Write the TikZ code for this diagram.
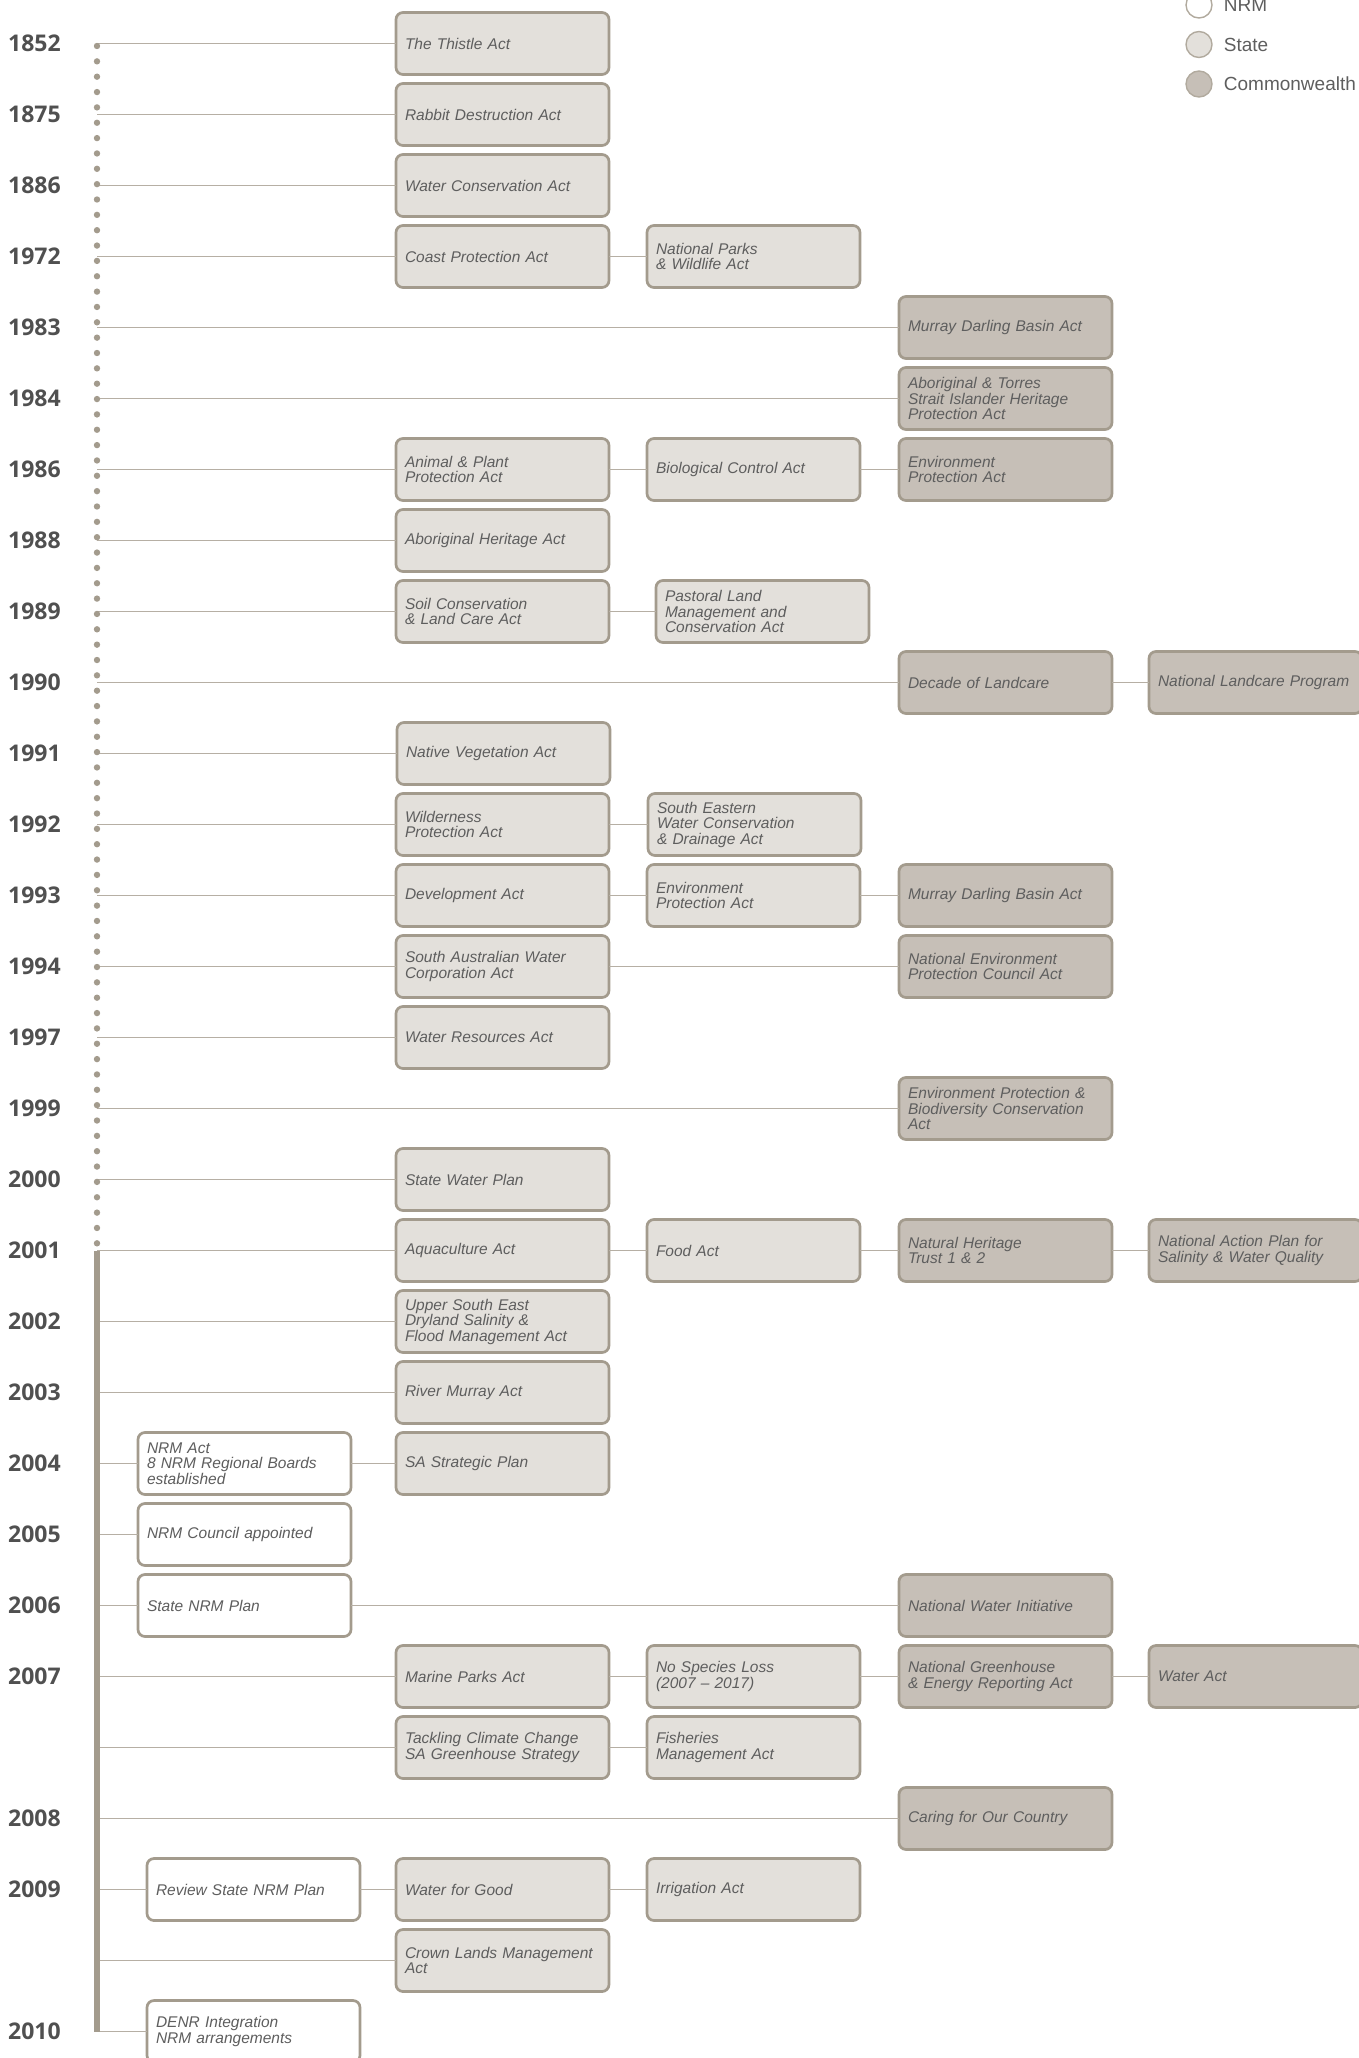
\documentclass[tikz,border=0pt]{standalone}
\usepackage{fontspec}
\setmainfont{Liberation Sans}
\newfontfamily\yearfont{Open Sans}
\usepackage{tikz}
\usetikzlibrary{positioning}

\definecolor{rimcol}{HTML}{A39B8D}
\definecolor{linecol}{HTML}{B6AFA4}
\definecolor{statefill}{HTML}{E3E0DB}
\definecolor{cwfill}{HTML}{C6BFB7}
\definecolor{txtcol}{HTML}{5E5E5E}
\definecolor{yearcol}{HTML}{505050}

\tikzset{
    actbox/.style={
        rectangle,
        rounded corners=7pt,
        draw=rimcol, % 边框
        line width=2.7pt,
        outer sep=0pt,
        minimum height=62pt,
        text width=195pt,
        inner xsep=9pt,
        inner ysep=0pt,
        align=left,
        anchor=west,
        text=txtcol,
        font=\fontsize{15.5}{15.5}\selectfont\itshape
    },
    nrmnode/.style={actbox, fill=white}, % NRM
    statenode/.style={actbox, fill=statefill}, % 州
    cwnode/.style={actbox, fill=cwfill}, % 联邦
    yearnode/.style={
        anchor=west,
        inner sep=0,
        text=yearcol,
        font=\yearfont\bfseries\fontsize{23}{23}\selectfont
    },
    keynode/.style={
        circle,
        draw=rimcol!85,
        line width=1.4pt,
        minimum size=26pt,
        inner sep=0
    },
    keytext/.style={
        inner sep=0,
        text=txtcol,
        font=\fontsize{19}{19}\selectfont
    },
    conn/.style={draw=linecol, line width=1.6pt}
}

\begin{document}
\begin{tikzpicture}[x=1pt, y=-1pt]
    \useasboundingbox (0,0) rectangle (1358,2058);

    % 时间轴
    \foreach \k/\yr in {0/1852, 1/1875, 2/1886, 3/1972, 4/1983, 5/1984, 6/1986,
        7/1988, 8/1989, 9/1990, 10/1991, 11/1992, 12/1993, 13/1994, 14/1997,
        15/1999, 16/2000, 17/2001, 18/2002, 19/2003, 20/2004, 21/2005, 22/2006,
        23/2007, 24/, 25/2008, 26/2009, 27/, 28/2010}{
        \coordinate (t\k) at (97, 43.5+71*\k);
        \node[yearnode] (y\k) at (8, 43.5+71*\k) {\yr};
    }

    % 图例
    \node[keynode, fill=white] (k1) at (1199,5) {};
    \node[keynode, fill=statefill] (k2) at (1199,44.5) {};
    \node[keynode, fill=cwfill] (k3) at (1199,84) {};
    \node[keytext, right=11pt of k1] {NRM};
    \node[keytext, right=11pt of k2] {State};
    \node[keytext, right=11pt of k3] {Commonwealth};

    % 法案
    \node[statenode, right=299pt of t0] (a0) {The Thistle Act};
    \node[statenode, right=299pt of t1] (a1) {Rabbit Destruction Act};
    \node[statenode, right=299pt of t2] (a2) {Water Conservation Act};
    \node[statenode, right=299pt of t3] (a3) {Coast Protection Act};
    \node[statenode, right=38pt of a3] (b3) {National Parks\\\& Wildlife Act};
    \node[cwnode, right=802pt of t4] (c4) {Murray Darling Basin Act};
    \node[cwnode, right=802pt of t5] (c5) {Aboriginal \& Torres\\Strait Islander Heritage\\Protection Act};
    \node[statenode, right=299pt of t6] (a6) {Animal \& Plant\\Protection Act};
    \node[statenode, right=38pt of a6] (b6) {Biological Control Act};
    \node[cwnode, right=39pt of b6] (c6) {Environment\\Protection Act};
    \node[statenode, right=299pt of t7] (a7) {Aboriginal Heritage Act};
    \node[statenode, right=299pt of t8] (a8) {Soil Conservation\\\& Land Care Act};
    \node[statenode, right=47pt of a8] (b8) {Pastoral Land\\Management and\\Conservation Act};
    \node[cwnode, right=802pt of t9] (c9) {Decade of Landcare};
    \node[cwnode, right=37pt of c9] (d9) {National Landcare Program};
    \node[statenode, right=300pt of t10] (a10) {Native Vegetation Act};
    \node[statenode, right=299pt of t11] (a11) {Wilderness\\Protection Act};
    \node[statenode, right=39pt of a11] (b11) {South Eastern\\Water Conservation\\\& Drainage Act};
    \node[statenode, right=299pt of t12] (a12) {Development Act};
    \node[statenode, right=38pt of a12] (b12) {Environment\\Protection Act};
    \node[cwnode, right=39pt of b12] (c12) {Murray Darling Basin Act};
    \node[statenode, right=299pt of t13] (a13) {South Australian Water\\Corporation Act};
    \node[cwnode, right=290pt of a13] (c13) {National Environment\\Protection Council Act};
    \node[statenode, right=299pt of t14] (a14) {Water Resources Act};
    \node[cwnode, right=802pt of t15] (c15) {Environment Protection \&\\Biodiversity Conservation\\Act};
    \node[statenode, right=299pt of t16] (a16) {State Water Plan};
    \node[statenode, right=299pt of t17] (a17) {Aquaculture Act};
    \node[statenode, right=38pt of a17] (b17) {Food Act};
    \node[cwnode, right=39pt of b17] (c17) {Natural Heritage\\Trust 1 \& 2};
    \node[cwnode, right=37pt of c17] (d17) {National Action Plan for\\Salinity \& Water Quality};
    \node[statenode, right=299pt of t18] (a18) {Upper South East\\Dryland Salinity \&\\Flood Management Act};
    \node[statenode, right=299pt of t19] (a19) {River Murray Act};
    \node[nrmnode, right=41pt of t20] (n20) {NRM Act\\8 NRM Regional Boards\\established};
    \node[statenode, right=45pt of n20] (a20) {SA Strategic Plan};
    \node[nrmnode, right=41pt of t21] (n21) {NRM Council appointed};
    \node[nrmnode, right=41pt of t22] (n22) {State NRM Plan};
    \node[cwnode, right=548pt of n22] (c22) {National Water Initiative};
    \node[statenode, right=299pt of t23] (a23) {Marine Parks Act};
    \node[statenode, right=38pt of a23] (b23) {No Species Loss\\(2007 – 2017)};
    \node[cwnode, right=39pt of b23] (c23) {National Greenhouse\\\& Energy Reporting Act};
    \node[cwnode, right=37pt of c23] (d23) {Water Act};
    \node[statenode, right=299pt of t24] (a24) {Tackling Climate Change\\SA Greenhouse Strategy};
    \node[statenode, right=38pt of a24] (b24) {Fisheries\\Management Act};
    \node[cwnode, right=802pt of t25] (c25) {Caring for Our Country};
    \node[nrmnode, right=50pt of t26] (n26) {Review State NRM Plan};
    \node[statenode, right=36pt of n26] (a26) {Water for Good};
    \node[statenode, right=38pt of a26] (b26) {Irrigation Act};
    \node[statenode, right=299pt of t27] (a27) {Crown Lands Management\\Act};
    \node[nrmnode, right=50pt of t28] (n28) {DENR Integration\\NRM arrangements};

    % 连线
    \foreach \k in {0,1,2,3,6,7,8,10,11,12,13,14,16,17,18,19,23,24,27}
        \draw[conn] (t\k) -- (a\k);
    \foreach \k in {4,5,9,15,25}
        \draw[conn] (t\k) -- (c\k);
    \foreach \k in {20,21,22,26,28}
        \draw[conn] (t\k) -- (n\k);
    \foreach \p/\q in {a3/b3, a6/b6, b6/c6, a8/b8, c9/d9, a11/b11, a12/b12,
        b12/c12, a13/c13, a17/b17, b17/c17, c17/d17, n20/a20, n22/c22,
        a23/b23, b23/c23, c23/d23, a24/b24, n26/a26, a26/b26}
        \draw[conn] (\p) -- (\q);

    % 虚线段与实线段
    \foreach \i in {0,...,78}
        \fill[rimcol] (97, 46+15.35*\i) circle (3.2pt);
    \draw[rimcol, line width=6.3pt] (t17) -- (t28);
\end{tikzpicture}
\end{document}
